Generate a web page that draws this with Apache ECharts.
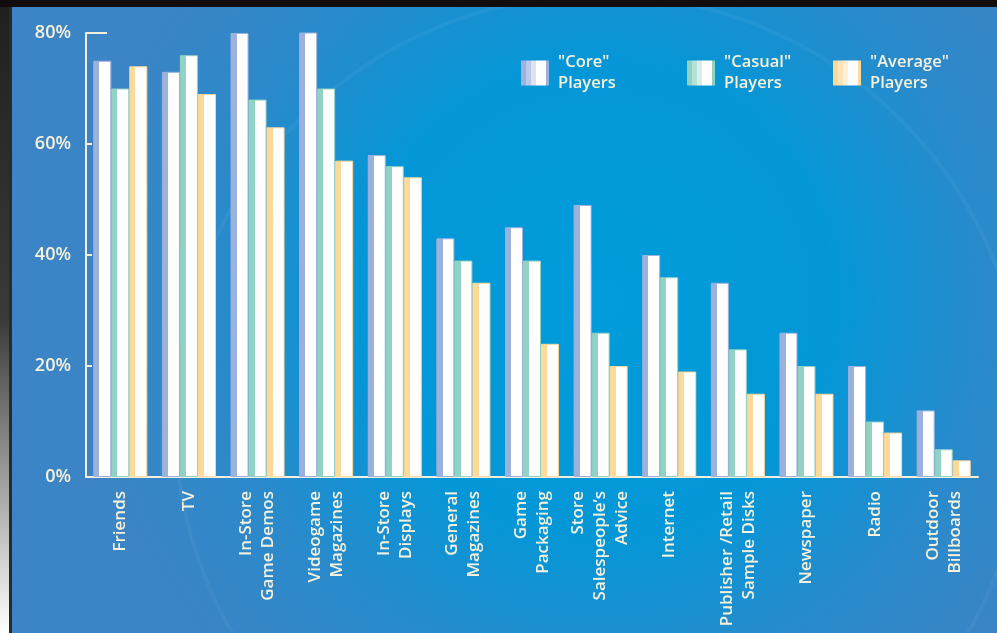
<!DOCTYPE html>
<html>
<head>
<meta charset="utf-8">
<script src="https://cdn.jsdelivr.net/npm/echarts@6/dist/echarts.min.js"></script>
<style>
html,body{margin:0;padding:0;background:#ffffff;}
#chart{width:997px;height:633px;}
</style>
</head>
<body>
<div id="chart"></div>
<script>
const categories = ["Friends","TV","In-Store\nGame Demos","Videogame\nMagazines","In-Store\nDisplays","General\nMagazines","Game\nPackaging","Store\nSalespeople’s\nAdvice","Internet","Publisher /Retail\nSample Disks","Newspaper","Radio","Outdoor\nBillboards"];
const coreValues    = [75,73,80,81,58,43,45,49,40,35,26,20,12];
const casualValues  = [70,76,68,70,56,39,39,26,36,23,20,10,5];
const averageValues = [74,69,63,57,54,35,24,20,19,15,15,8,3];
const seriesNames = ['"Core"\nPlayers','"Casual"\nPlayers','"Average"\nPlayers'];
const yTicks = [0,20,40,60,80];

const txt = '#f6f1dc';
const font = '"Open Sans", "DejaVu Sans", sans-serif';
function stripe(c){
  return {type:'linear',x:0,y:0,x2:1,y2:0,colorStops:[
    {offset:0,color:c},{offset:0.34,color:c},{offset:0.34,color:'#ffffff'},{offset:1,color:'#ffffff'}]};
}
function legendStripe(c, l1, l2){
  return {type:'linear',x:0,y:0,x2:1,y2:0,colorStops:[
    {offset:0,color:c},{offset:0.18,color:c},{offset:0.18,color:l1},{offset:0.36,color:l1},
    {offset:0.36,color:l2},{offset:0.52,color:l2},{offset:0.52,color:'#ffffff'},{offset:0.88,color:'#ffffff'},
    {offset:0.88,color:c},{offset:1,color:c}]};
}
const colors = ['#9db1dd','#91d2c4','#fdd99a'];
const light1 = ['#bccae9','#b5e1d7','#fde5b9'];
const light2 = ['#dbe2f3','#d6efe9','#fef0d6'];
const values = [coreValues, casualValues, averageValues];

const chart = echarts.init(document.getElementById('chart'), null, {renderer:'canvas'});

const legendPos = [516, 682, 828];
const option = {
  animation:false,
  textStyle:{fontFamily:font},
  graphic:[
    {type:'rect', z:-10, silent:true, shape:{x:11,y:7,width:986,height:626},
     style:{fill:{type:'radial',x:600,y:300,r:520,global:true,colorStops:[
       {offset:0,color:'#009cdb'},{offset:0.45,color:'#0497d7'},{offset:0.75,color:'#2a8acb'},{offset:1,color:'#3b84c5'}]}}},
    {type:'circle', z:-9, silent:true, shape:{cx:600,cy:420,r:425},
     style:{fill:null, stroke:'rgba(255,255,255,0.045)', lineWidth:4}},
    {type:'rect', z:-8, silent:true, shape:{x:0,y:0,width:997,height:7}, style:{fill:'#120c0c'}},
    {type:'rect', z:-8, silent:true, shape:{x:0,y:7,width:11,height:626},
     style:{fill:{type:'linear',x:0,y:0,x2:0,y2:1,colorStops:[{offset:0,color:'#202020'},{offset:0.5,color:'#3a3a3a'},{offset:1,color:'#ffffff'}]}}},
    {type:'rect', z:-7, silent:true, shape:{x:9,y:7,width:3,height:626}, style:{fill:'#2a2a2a'}}
  ],
  legend: seriesNames.map((n,i)=>({
    data:[n], left:legendPos[i], top:40, orient:'horizontal',
    itemWidth:28, itemHeight:25, itemGap:0,
    icon:'rect',
    itemStyle:{color:legendStripe(colors[i], light1[i], light2[i]), borderWidth:0},
    textStyle:{color:txt, fontSize:16.5, fontWeight:600, lineHeight:21, fontFamily:font, padding:[14,0,0,4]}
  })),
  grid:{left:86, right:19, top:33, bottom:156, containLabel:false},
  xAxis:{
    type:'category', data:categories,
    axisLine:{show:true, lineStyle:{color:'#f3efdc', width:2}},
    axisTick:{show:false},
    axisLabel:{rotate:90, color:txt, fontSize:17, fontWeight:600, lineHeight:22, margin:14, interval:0, fontFamily:font}
  },
  yAxis:[{
    type:'value', min:0, max:80, interval:20,
    axisLine:{show:true, lineStyle:{color:'#f3efdc', width:2}},
    axisTick:{show:true, inside:true, length:6, lineStyle:{color:'#f3efdc', width:2}},
    splitLine:{show:false},
    axisLabel:{color:txt, fontSize:18, fontWeight:600, margin:15, fontFamily:font, formatter:v=>yTicks.includes(v)?v+'%':''}
  },{
    type:'value', min:0, max:80, interval:20, position:'left',
    axisLine:{show:false}, axisLabel:{show:false}, splitLine:{show:false},
    axisTick:{show:true, inside:true, length:21, customValues:[80], lineStyle:{color:'#f3efdc', width:2}}
  }],
  series: seriesNames.map((n,i)=>({
    name:n, type:'bar', data:values[i], barWidth:18, barGap:'0%', yAxisIndex:0,
    itemStyle:{color:stripe(colors[i]), borderColor:colors[i], borderWidth:1},
    emphasis:{disabled:true}
  }))
};
chart.setOption(option);
</script>
</body>
</html>
